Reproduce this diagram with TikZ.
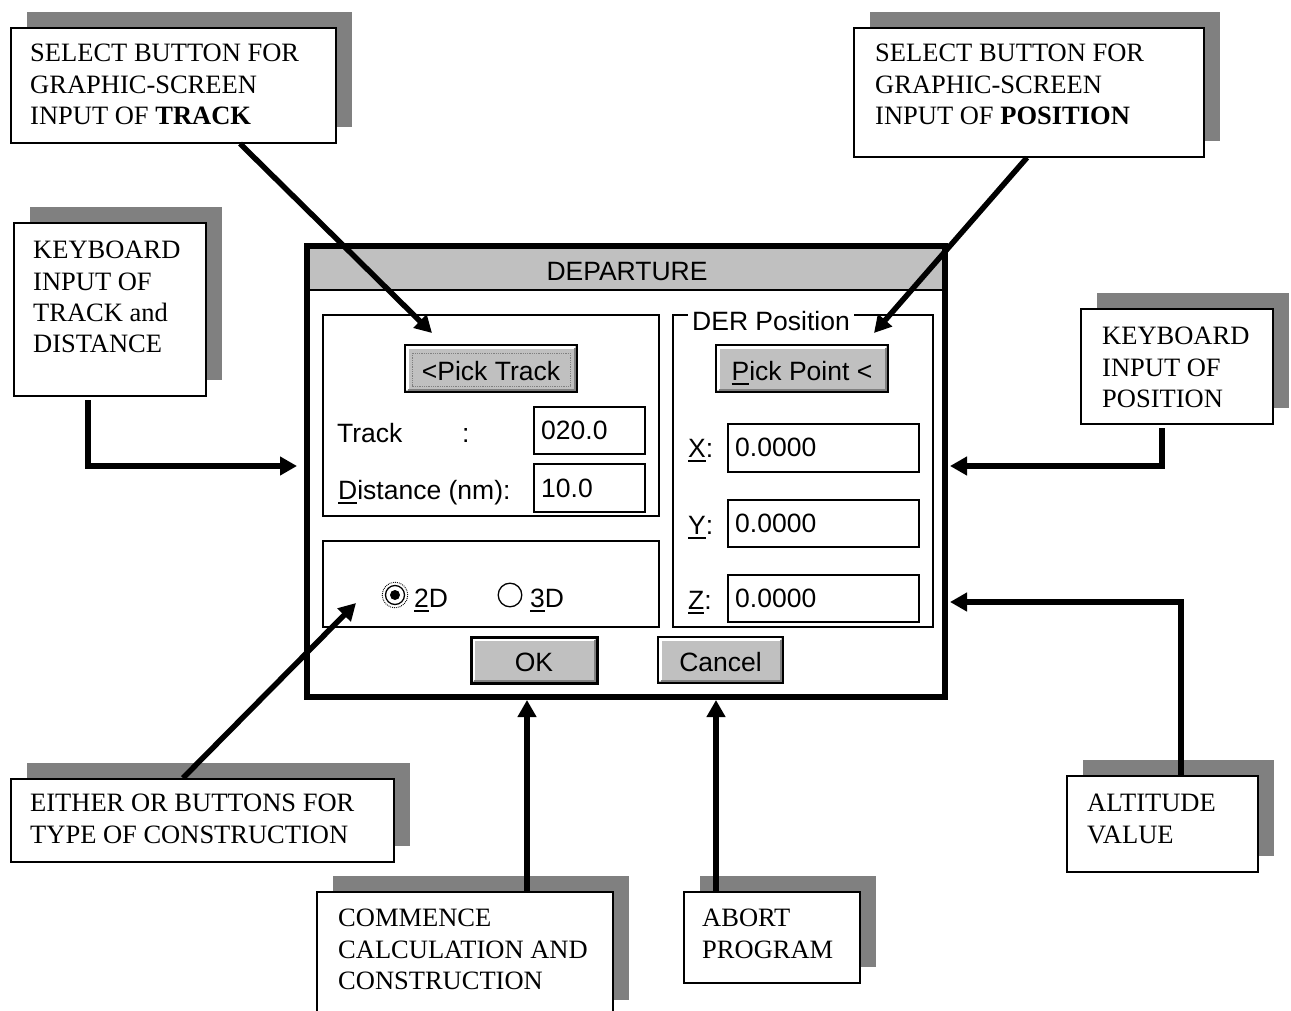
\documentclass[tikz,border=0pt]{standalone}
\usepackage{fontspec}
\setmainfont{Liberation Serif}
\newfontfamily\uifont{Liberation Sans}
\usetikzlibrary{arrows.meta,shadows}
\definecolor{shadowgray}{HTML}{808080}
\definecolor{btngray}{HTML}{C0C0C0}
\definecolor{bevelgray}{HTML}{808080}
\newcommand\uln[1]{\leavevmode\setbox0\hbox{#1}\rlap{\rule[-4.5pt]{\wd0}{1.6pt}}\box0}
\newcommand\uibevel[4]{%
  \fill[btngray] (#1,#2) rectangle (#3,#4);
  \draw[white, line width=2.2pt] (#1+2.5,#4-2.5) -- (#1+2.5,#2+2.5) -- (#3-2.5,#2+2.5);
  \draw[bevelgray, line width=2.5pt] (#1+2.5,#4-2.2) -- (#3-2.2,#4-2.2) -- (#3-2.2,#2+2.5);
  \draw[line width=1.5pt] (#1,#2) rectangle (#3,#4);
}
\begin{document}
\begin{tikzpicture}[x=1pt,y=-1pt,
  cbox/.style={draw, line width=1.6pt, fill=white, anchor=north west, inner sep=0pt,
    general shadow={fill=shadowgray, shadow xshift=16pt, shadow yshift=16pt}},
  ctext/.style={anchor=north west, align=left, inner sep=0pt, font=\fontsize{26.5}{31.3}\selectfont},
  ui/.style={inner sep=0pt, font=\uifont\fontsize{26.5}{30}\selectfont},
  arr/.style={line width=5.5pt, -{Triangle[length=17pt,width=18pt]}},
  grp/.style={draw, line width=1.5pt},
  field/.style={draw, line width=1.5pt, fill=white, anchor=north west, inner sep=0pt},
]
\useasboundingbox (0,0) rectangle (1291,1011);
\clip (0,0) rectangle (1291,1011);

% ---------- callout boxes ----------
\node[cbox, minimum width=325pt, minimum height=115pt] (b1) at (10,27) {};
\node[ctext] (t1) at (30,44) {SELECT BUTTON FOR\\GRAPHIC-SCREEN\\INPUT OF \textbf{TRACK}};

\node[cbox, minimum width=350pt, minimum height=129pt] (b2) at (853,27) {};
\node[ctext] (t2) at (875,44) {SELECT BUTTON FOR\\GRAPHIC-SCREEN\\INPUT OF \textbf{POSITION}};

\node[cbox, minimum width=192pt, minimum height=173pt] (b3) at (13,222) {};
\node[ctext] (t3) at (33,241) {KEYBOARD\\INPUT OF\\TRACK and\\DISTANCE};

\node[cbox, minimum width=192pt, minimum height=115pt] (b4) at (1080,308) {};
\node[ctext] (t4) at (1102,327) {KEYBOARD\\INPUT OF\\POSITION};

\node[cbox, minimum width=383pt, minimum height=83pt] (b5) at (10,778) {};
\node[ctext] (t5) at (30,794) {EITHER OR BUTTONS FOR\\TYPE OF CONSTRUCTION};

\node[cbox, minimum width=296pt, minimum height=124pt] (b6) at (316,891) {};
\node[ctext] (t6) at (338,909) {COMMENCE\\CALCULATION AND\\CONSTRUCTION};

\node[cbox, minimum width=176pt, minimum height=91pt] (b7) at (683,891) {};
\node[ctext] (t7) at (702,909) {ABORT\\PROGRAM};

\node[cbox, minimum width=191pt, minimum height=96pt] (b8) at (1066,775) {};
\node[ctext] (t8) at (1087,794) {ALTITUDE\\VALUE};

% ---------- dialog ----------
\fill[btngray] (307,246) rectangle (945,290);
\draw[line width=2pt] (307,290) -- (945,290);
\node[ui, anchor=base] (title) at (627,280) {DEPARTURE};

% left group
\draw[grp] (323,315) rectangle (659,516);
\uibevel{405}{345}{577}{392}
\draw[densely dotted, bevelgray, line width=0.8pt] (412,353) rectangle (570,386);
\node[ui, anchor=base] (picktrack) at (491,380) {<Pick Track};
\node[ui, anchor=base west] (tracklbl) at (337,442) {Track};
\node[ui, anchor=base west] (trackcolon) at (462,442) {:};
\node[field, minimum width=111pt, minimum height=47pt] (ftrack) at (533,406) {};
\node[ui, anchor=base west] (vtrack) at (541,439) {020.0};
\node[ui, anchor=base west] (distlbl) at (338,499) {\uln{D}istance (nm):};
\node[field, minimum width=111pt, minimum height=48pt] (fdist) at (533,463) {};
\node[ui, anchor=base west] (vdist) at (541,497) {10.0};

% radio group
\draw[grp] (323,541) rectangle (659,627);
\draw[densely dotted, line width=0.9pt] (395,595) circle (12.8pt);
\draw[line width=1.3pt] (395,595) circle (9.5pt);
\fill (395,595) circle (5pt);
\node[ui, anchor=base west] (r2d) at (414,607) {\uln{2}D};
\draw[line width=1.3pt] (510,595) circle (11.8pt);
\node[ui, anchor=base west] (r3d) at (530,607) {\uln{3}D};

% right group
\draw[grp] (673,315) rectangle (933,627);
\node[ui, anchor=base west, fill=white, inner xsep=4pt, inner ysep=1pt] (der) at (688,330) {DER Position};
\uibevel{716}{345}{888}{392}
\node[ui, anchor=base] (pickpoint) at (802,380) {\uln{P}ick Point <};
\node[ui, anchor=base west] (xl) at (688,457) {\uln{X}:};
\node[field, minimum width=191pt, minimum height=48pt] (fx) at (727,423) {};
\node[ui, anchor=base west] (vx) at (735,456) {0.0000};
\node[ui, anchor=base west] (yl) at (688,534) {\uln{Y}:};
\node[field, minimum width=191pt, minimum height=47pt] (fy) at (727,499) {};
\node[ui, anchor=base west] (vy) at (735,532) {0.0000};
\node[ui, anchor=base west] (zl) at (688,609) {\uln{Z}:};
\node[field, minimum width=191pt, minimum height=47pt] (fz) at (727,574) {};
\node[ui, anchor=base west] (vz) at (735,607) {0.0000};

% buttons
\uibevel{471}{637}{597}{683}
\draw[line width=3pt] (471,637) rectangle (597,683);
\node[ui, anchor=base] (ok) at (534,671) {OK};
\uibevel{658}{637}{783}{683}
\node[ui, anchor=base] (cancel) at (720.5,671) {Cancel};

% outer border
\draw[line width=5.5pt] (307,246) rectangle (945,697);

% ---------- arrows ----------
\coordinate (a1s) at (240,142);
\coordinate (a1t) at (432,333);
\coordinate (a2s) at (1027,156);
\coordinate (a2t) at (874,333);
\coordinate (a3s) at (88,400);
\coordinate (a3t) at (297,466);
\coordinate (a4s) at (1162,428);
\coordinate (a4t) at (950,466);
\coordinate (a5s) at (183,778);
\coordinate (a5t) at (356,603);
\coordinate (a6t) at (527,700);
\coordinate (a7t) at (716,700);
\coordinate (a8t) at (950,602);

\draw[arr] (b1.south -| a1s) -- (a1t);
\draw[arr] (b2.south -| a2s) -- (a2t);
\draw[arr] (a3s) |- (a3t);
\draw[arr] (a4s) |- (a4t);
\draw[arr] (b5.north -| a5s) -- (a5t);
\draw[arr] (b6.north -| a6t) -- (a6t);
\draw[arr] (b7.north -| a7t) -- (a7t);
\draw[arr] (b8.north -| 1181,0) |- (a8t);
\end{tikzpicture}
\end{document}
